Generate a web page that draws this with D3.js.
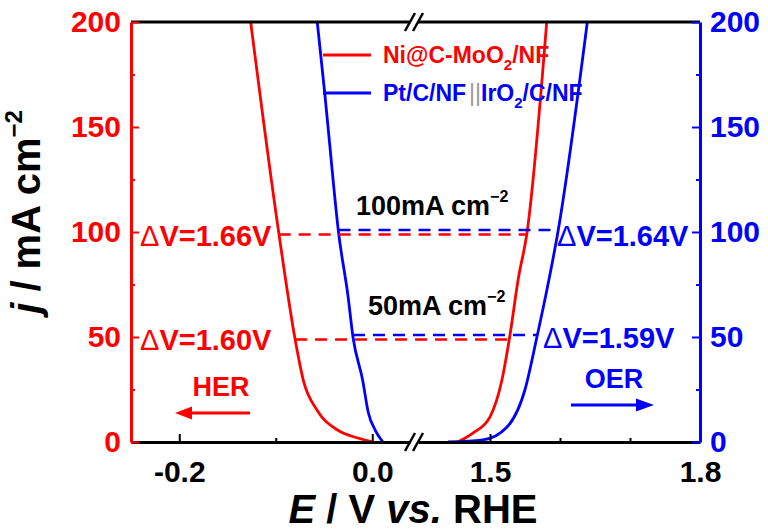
<!DOCTYPE html>
<html>
<head>
<meta charset="utf-8">
<script src="https://cdn.jsdelivr.net/npm/d3@7"></script>
<style>
  body { margin: 0; background: #fff; }
  svg { display: block; font-family: 'Liberation Sans', Arial, sans-serif; font-weight: bold; }
</style>
</head>
<body>
<svg></svg>
<script>
// Curve data: potential (V vs. RHE) and current density (mA cm-2)
let niHerV = [-0.126, -0.097, -0.080, -0.0715, -0.057, -0.036, -0.015, 0.001];
let niHerJ = [200, 100, 49, 29.5, 15, 5.7, 1.9, 0];
let niOerV = [1.454, 1.476, 1.500, 1.517, 1.529, 1.540, 1.553, 1.581];
let niOerJ = [0, 4.3, 12, 29.5, 52, 77, 100, 200];

let ptHerV = [-0.057, -0.049, -0.045, -0.035, -0.025, -0.020, -0.010, -0.004, 0.003, 0.011];
let ptHerJ = [200, 165, 146, 100, 69, 50, 29.5, 13.8, 5.7, 0];
let ptOerV = [1.44, 1.49, 1.524, 1.55, 1.567, 1.581, 1.597, 1.639];
let ptOerJ = [0, 1, 7, 25, 50, 72, 100, 200];

// Cell voltage annotations: level, HER potential, OER potential, label
let niLevels = [100, 50];
let niDashHer = [-0.097, -0.080];
let niDashOer = [1.553, 1.529];
let niLabels = ['1.66V', '1.60V'];
let ptLevels = [100, 50];
let ptDashHer = [-0.035, -0.020];
let ptDashOer = [1.597, 1.567];
let ptLabels = ['1.64V', '1.59V'];

let yTicks = [0, 50, 100, 150, 200];
let yMinor = [25, 75, 125, 175];
let xLeftTicks = [-0.2, 0.0];
let xLeftMinor = [-0.1];
let xRightTicks = [1.5, 1.8];
let xRightMinor = [1.6, 1.7];

let RED = '#ff0000';
let BLUE = '#0000ff';

let svgWidth = 768;
let svgHeight = 531;
let plot = { left: 131, right: 700, top: 22, bottom: 442 };

let svg = d3.select('svg')
  .attr('width', svgWidth)
  .attr('height', svgHeight);

// broken x axis: two linear pieces
let xL = d3.scaleLinear().domain([-0.25, 0.0391]).range([plot.left, 410]);
let xR = d3.scaleLinear().domain([1.3971, 1.8]).range([418, plot.right]);
let y = d3.scaleLinear().domain([0, 200]).range([plot.bottom, plot.top]);

svg.append('clipPath').attr('id', 'clip')
  .append('rect')
  .attr('x', plot.left).attr('y', plot.top)
  .attr('width', plot.right - plot.left).attr('height', plot.bottom - plot.top);

// curves
function drawCurve(vs, js, xs, color) {
  let pts = vs.map((v, i) => [v, js[i]]);
  let line = d3.line()
    .x(d => xs(d[0]))
    .y(d => y(d[1]))
    .curve(d3.curveMonotoneX);
  svg.append('path')
    .datum(pts)
    .attr('clip-path', 'url(#clip)')
    .attr('d', line)
    .attr('fill', 'none')
    .attr('stroke', color)
    .attr('stroke-width', 2.8);
}
drawCurve(niHerV, niHerJ, xL, RED);
drawCurve(niOerV, niOerJ, xR, RED);
drawCurve(ptHerV, ptHerJ, xL, BLUE);
drawCurve(ptOerV, ptOerJ, xR, BLUE);

// dashed cell-voltage lines (small offsets so both colours stay visible)
function drawDashes(levels, her, oer, color, off) {
  svg.selectAll(null)
    .data(levels)
    .enter()
    .append('line')
    .attr('x1', (d, i) => xL(her[i]))
    .attr('x2', (d, i) => xR(oer[i]))
    .attr('y1', d => y(d) + off)
    .attr('y2', d => y(d) + off)
    .attr('stroke', color)
    .attr('stroke-width', 2.6)
    .attr('stroke-dasharray', '12,8');
}
drawDashes(niLevels, niDashHer, niDashOer, RED, 2.5);
drawDashes(ptLevels, ptDashHer, ptDashOer, BLUE, -2);

// top frame line
[xL, xR].forEach(s => {
  svg.append('line')
    .attr('x1', s.range()[0]).attr('x2', s.range()[1])
    .attr('y1', plot.top).attr('y2', plot.top)
    .attr('stroke', '#000').attr('stroke-width', 3);
});

// bottom axis pieces
function bottomAxis(scale, ticks, minor) {
  let g = svg.append('g')
    .attr('transform', 'translate(0,' + plot.bottom + ')')
    .call(d3.axisBottom(scale).tickValues(ticks).tickSize(-8).tickSizeOuter(0)
      .tickPadding(19).tickFormat(d3.format('.1f')));
  g.selectAll('.tick text')
    .attr('fill', '#000')
    .attr('font-size', 30)
    .attr('font-family', "'Liberation Sans', Arial, sans-serif")
    .attr('font-weight', 'bold')
    .text(d => d3.format('.1f')(d).replace('\u2212', '-'));
  g.append('g')
    .call(d3.axisBottom(scale).tickValues(minor).tickSize(-4).tickSizeOuter(0).tickFormat(''))
    .select('.domain').remove();
  g.selectAll('.domain').attr('stroke', '#000').attr('stroke-width', 3);
  g.selectAll('.tick line').attr('stroke', '#000').attr('stroke-width', 2);
}
bottomAxis(xL, xLeftTicks, xLeftMinor);
bottomAxis(xR, xRightTicks, xRightMinor);

// axis break marks
[plot.top, plot.bottom].forEach(yy => {
  [410, 418].forEach(xx => {
    svg.append('line')
      .attr('x1', xx - 5).attr('y1', yy + 9)
      .attr('x2', xx + 5).attr('y2', yy - 9)
      .attr('stroke', '#000').attr('stroke-width', 2.5);
  });
});

// left and right y axes
function yAxis(axisFn, xPos, color) {
  let g = svg.append('g')
    .attr('transform', 'translate(' + xPos + ',0)')
    .call(axisFn(y).tickValues(yTicks).tickSize(-8).tickSizeOuter(0).tickPadding(10));
  g.selectAll('.tick text')
    .attr('fill', color)
    .attr('font-size', 30)
    .attr('font-family', "'Liberation Sans', Arial, sans-serif")
    .attr('font-weight', 'bold');
  g.append('g')
    .call(axisFn(y).tickValues(yMinor).tickSize(-4).tickSizeOuter(0).tickFormat(''))
    .select('.domain').remove();
  g.selectAll('.domain').attr('stroke', color).attr('stroke-width', 3);
  g.selectAll('.tick line').attr('stroke', color).attr('stroke-width', 2);
}
yAxis(d3.axisLeft, plot.left, RED);
yAxis(d3.axisRight, plot.right, BLUE);

// legend
let legend = [
  { color: RED, y: 55, parts: [['Ni@C-MoO'], ['2', 'sub'], ['/NF']] },
  { color: BLUE, y: 93, parts: [['Pt/C/NF'], ['||', 'bar'], ['IrO'], ['2', 'sub'], ['/C/NF']] }
];
legend.forEach(item => {
  svg.append('line')
    .attr('x1', 323).attr('x2', 371)
    .attr('y1', item.y).attr('y2', item.y)
    .attr('stroke', item.color).attr('stroke-width', 2.8);
  let t = svg.append('text')
    .attr('x', 383).attr('y', item.y + 8)
    .attr('font-size', 23)
    .attr('fill', item.color);
  let shift = 0;
  item.parts.forEach(p => {
    let ts = t.append('tspan').text(p[0]);
    if (p[1] === 'sub') {
      ts.attr('font-size', 15).attr('dy', 7 - shift);
      shift = 7;
    } else {
      ts.attr('dy', -shift);
      shift = 0;
    }
    if (p[1] === 'bar') {
      ts.attr('fill', '#999').attr('font-weight', 'normal').attr('dx', 3);
    }
  });
});

// current density annotations
function densityLabel(txt, xx, yy) {
  let t = svg.append('text')
    .attr('x', xx).attr('y', yy)
    .attr('font-size', 27)
    .attr('fill', '#000');
  t.append('tspan').text(txt);
  t.append('tspan').text('\u22122').attr('font-size', 16).attr('dy', -13);
}
densityLabel('100mA cm', 356, 215);
densityLabel('50mA cm', 368, 315);

// ΔV labels
function dvLabel(txt, xx, yy, color) {
  let t = svg.append('text')
    .attr('x', xx).attr('y', yy)
    .attr('font-size', 29)
    .attr('fill', color);
  t.append('tspan').text('\u0394').attr('font-weight', 'normal');
  t.append('tspan').text('V=' + txt);
}
dvLabel(niLabels[0], 140, 246, RED);
dvLabel(niLabels[1], 140, 350, RED);
dvLabel(ptLabels[0], 557, 246, BLUE);
dvLabel(ptLabels[1], 543, 348, BLUE);

// HER / OER arrows
svg.append('text').attr('x', 221).attr('y', 396)
  .attr('text-anchor', 'middle').attr('font-size', 27).attr('fill', RED).text('HER');
svg.append('line').attr('x1', 250).attr('x2', 188).attr('y1', 413).attr('y2', 413)
  .attr('stroke', RED).attr('stroke-width', 3);
svg.append('path').attr('d', 'M175,413 L192,406.5 L192,419.5 Z').attr('fill', RED);

svg.append('text').attr('x', 614).attr('y', 388)
  .attr('text-anchor', 'middle').attr('font-size', 27).attr('fill', BLUE).text('OER');
svg.append('line').attr('x1', 571).attr('x2', 640).attr('y1', 405).attr('y2', 405)
  .attr('stroke', BLUE).attr('stroke-width', 3);
svg.append('path').attr('d', 'M654,405 L636,398.5 L636,411.5 Z').attr('fill', BLUE);

// axis titles
let xt = svg.append('text')
  .attr('x', 413).attr('y', 523)
  .attr('text-anchor', 'middle')
  .attr('font-size', 40)
  .attr('fill', '#000');
xt.append('tspan').text('E').attr('font-style', 'italic');
xt.append('tspan').text(' / V ');
xt.append('tspan').text('vs.').attr('font-style', 'italic');
xt.append('tspan').text(' RHE');

let yt = svg.append('text')
  .attr('transform', 'translate(40,212) rotate(-90)')
  .attr('text-anchor', 'middle')
  .attr('font-size', 40)
  .attr('fill', '#000');
yt.append('tspan').text('j').attr('font-style', 'italic');
yt.append('tspan').text(' / mA cm');
yt.append('tspan').text('\u22122').attr('font-size', 24).attr('dy', -18);
</script>
</body>
</html>
